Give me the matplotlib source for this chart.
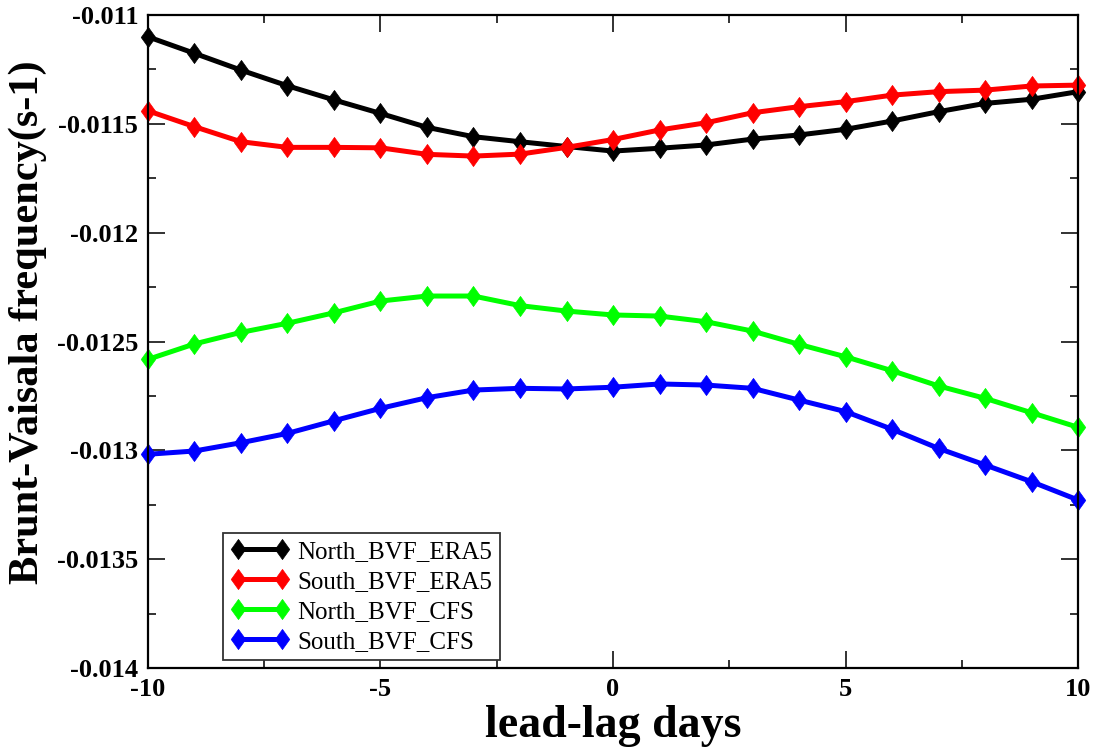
import matplotlib
matplotlib.use("Agg")
import matplotlib.pyplot as plt
from matplotlib.path import Path
from matplotlib.ticker import MultipleLocator, FixedLocator, FuncFormatter

# lead-lag composite of Brunt-Vaisala frequency
days = list(range(-10, 11))

north_era5 = [-0.01110, -0.011176, -0.011253, -0.011325, -0.01139, -0.011452, -0.011516,
              -0.011559, -0.011582, -0.011604, -0.011625, -0.011612, -0.011597, -0.01157,
              -0.011551, -0.011525, -0.011487, -0.011444, -0.011406, -0.011387, -0.011352]
south_era5 = [-0.01144, -0.011513, -0.011582, -0.011608, -0.011608, -0.01161, -0.01164,
              -0.011648, -0.011639, -0.011608, -0.011572, -0.011528, -0.011495, -0.011449,
              -0.011421, -0.011398, -0.011368, -0.011352, -0.011345, -0.011326, -0.011322]
north_cfs = [-0.012582, -0.012511, -0.012458, -0.012416, -0.012368, -0.012314, -0.012291,
             -0.012291, -0.012335, -0.01236, -0.012378, -0.012383, -0.012409, -0.012452,
             -0.012513, -0.01257, -0.012634, -0.012704, -0.012761, -0.012827, -0.012894]
south_cfs = [-0.013018, -0.013003, -0.012965, -0.012922, -0.012864, -0.012807, -0.012758,
             -0.012723, -0.012715, -0.012718, -0.01271, -0.012695, -0.0127, -0.012715,
             -0.012769, -0.012822, -0.012903, -0.012991, -0.013067, -0.013144, -0.013228]

series_names = ["North_BVF_ERA5", "South_BVF_ERA5", "North_BVF_CFS", "South_BVF_CFS"]
series_colors = ["#000000", "#ff0000", "#00ff00", "#0000ff"]

x_ticks = [-10, -5, 0, 5, 10]
y_ticks = [-0.014, -0.0135, -0.013, -0.0125, -0.012, -0.0115, -0.011]

serif = ["Liberation Serif", "DejaVu Serif"]

# slightly tall diamond symbol
diamond = Path([(0, 1), (0.72, 0), (0, -1), (-0.72, 0), (0, 1)],
               [Path.MOVETO, Path.LINETO, Path.LINETO, Path.LINETO, Path.CLOSEPOLY])

fig = plt.figure(figsize=(10.97, 7.52), dpi=100)
ax = fig.add_axes([0.1349, 0.1117, 0.8478, 0.8683])

for vals, name, col in zip([north_era5, south_era5, north_cfs, south_cfs],
                           series_names, series_colors):
    ax.plot(days, vals, color=col, lw=3.6, marker=diamond, markersize=14.5,
            markeredgecolor=col, markeredgewidth=0.5, markerfacecolor=col,
            label=name, clip_on=False)

ax.set_xlim(-10, 10)
ax.set_ylim(-0.014, -0.011)
ax.xaxis.set_major_locator(FixedLocator(x_ticks))
ax.xaxis.set_minor_locator(MultipleLocator(2.5))
ax.yaxis.set_major_locator(FixedLocator(y_ticks))
ax.yaxis.set_minor_locator(MultipleLocator(0.00025))
ax.yaxis.set_major_formatter(FuncFormatter(lambda v, p: "%g" % v))
ax.xaxis.set_major_formatter(FuncFormatter(lambda v, p: "%g" % v))

ax.tick_params(which="both", direction="in", top=True, right=True, width=1.3, color="#222222")
ax.tick_params(which="major", length=12, pad=7)
ax.tick_params(which="minor", length=6)
for s in ax.spines.values():
    s.set_linewidth(1.6)

for lab in ax.get_xticklabels() + ax.get_yticklabels():
    lab.set_fontfamily(serif)
    lab.set_fontweight("bold")
    lab.set_fontsize(19)

ax.set_xlabel("lead-lag days", fontfamily=serif, fontweight="bold", fontsize=33, labelpad=3)
ax.set_ylabel("Brunt-Vaisala frequency(s-1)", fontfamily=serif, fontweight="bold",
              fontsize=30.5)
ax.yaxis.set_label_coords(-0.109, 0.53)

leg = ax.legend(loc="lower left", bbox_to_anchor=(0.081, 0.012),
                prop={"family": serif, "size": 18},
                frameon=True, fancybox=False, framealpha=1, edgecolor="#333333",
                handlelength=2.35, handletextpad=0.32, borderpad=0.3, labelspacing=0.3,
                borderaxespad=0, numpoints=2)
leg.get_frame().set_linewidth(1.3)

fig.savefig("out.png", dpi=100)
